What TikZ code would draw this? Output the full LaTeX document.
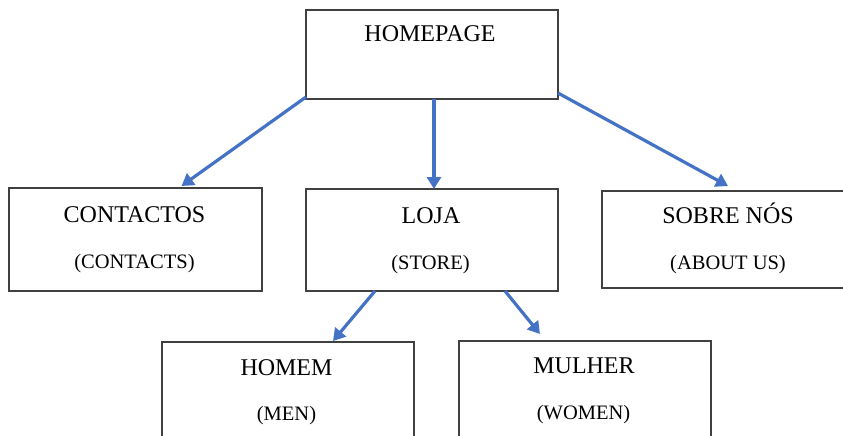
\documentclass[tikz,border=0pt]{standalone}
\usepackage{fontspec}
\setmainfont{Liberation Serif}
\usetikzlibrary{arrows.meta}
\definecolor{arrowblue}{HTML}{4472C4}
\definecolor{boxline}{HTML}{404040}
\tikzset{
  box/.style={draw=boxline, line width=1.2pt, fill=white, anchor=north west, inner sep=0pt, outer sep=0pt},
  ttl/.style={anchor=base, inner sep=0pt, font=\fontsize{24}{28}\selectfont},
  sub/.style={anchor=base, inner sep=0pt, font=\fontsize{20.5}{24}\selectfont},
  link/.style={draw=arrowblue, line width=3.2pt, -{Triangle[length=12pt,width=14pt]}},
}
\begin{document}
\begin{tikzpicture}[x=1pt,y=-1pt]
\useasboundingbox (0,0) rectangle (843,436);
\clip (0,0) rectangle (843,436);
% boxes
\node[box, minimum width=252pt, minimum height=89pt] (home) at (306,10) {};
\node[box, minimum width=253pt, minimum height=103pt] (cont) at (9,188) {};
\node[box, minimum width=252pt, minimum height=102pt] (loja) at (306,189) {};
\node[box, minimum width=252pt, minimum height=97pt] (sobre) at (602,191) {};
\node[box, minimum width=252pt, minimum height=120pt] (homem) at (162,342) {};
\node[box, minimum width=252pt, minimum height=120pt] (mulher) at (459,341) {};
% texts
\node[ttl] (thome) at (430,42) {HOMEPAGE};
\node[ttl] (tcont) at (134.5,222) {CONTACTOS};
\node[sub] (scont) at (134.5,268) {(CONTACTS)};
\node[ttl] (tloja) at (431,223) {LOJA};
\node[sub] (sloja) at (430.5,269) {(STORE)};
\node[ttl] (tsobre) at (728,223) {SOBRE NÓS};
\node[sub] (ssobre) at (728,269) {(ABOUT US)};
\node[ttl] (thomem) at (286.5,375) {HOMEM};
\node[sub] (shomem) at (286.5,420) {(MEN)};
\node[ttl] (tmulher) at (584,373) {MULHER};
\node[sub] (smulher) at (583.5,419) {(WOMEN)};
% connectors
\draw[link] ([yshift=2pt]home.south west) -- ([xshift=46pt,yshift=2pt]cont.north);
\draw[link] ([xshift=2pt]home.south) -- ([xshift=2pt]loja.north);
\draw[link] ([yshift=6pt]home.south east) -- ([yshift=5pt]sobre.north);
\draw[link] ([xshift=-57pt]loja.south) -- ([xshift=45pt,yshift=1pt]homem.north);
\draw[link] ([xshift=73pt]loja.south) -- ([xshift=-45pt,yshift=7pt]mulher.north);
\end{tikzpicture}
\end{document}
